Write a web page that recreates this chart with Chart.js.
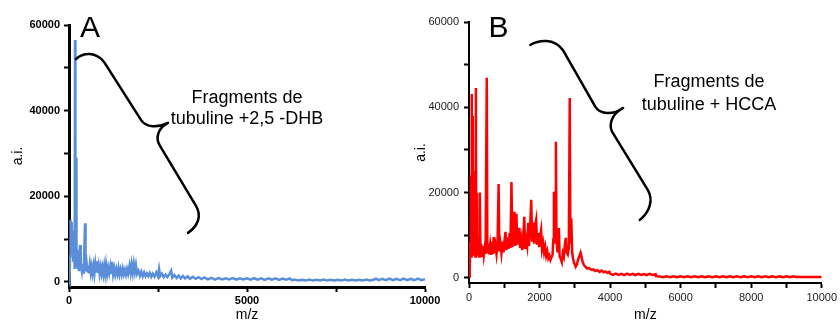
<!DOCTYPE html>
<html>
<head>
<meta charset="utf-8">
<script src="https://cdn.jsdelivr.net/npm/chart.js@4.4.1/dist/chart.umd.min.js"></script>
<style>
  html, body { margin: 0; padding: 0; background: #fff; }
  #wrap { position: relative; width: 840px; height: 324px; overflow: hidden; }
  #wrap canvas { position: absolute; left: 0; top: 0; }
</style>
</head>
<body>
<div id="wrap">
  <canvas id="chartA" width="840" height="324"></canvas>
  <canvas id="chartB" width="840" height="324"></canvas>
</div>
<script>
// Spectrum A (2,5-DHB): m/z and intensity (a.i.)
const mzA = [
  0, 15, 30, 45, 60, 75, 90, 105, 120, 140, 160, 170, 180, 197, 210, 225, 240, 260, 280, 309,
  325, 337, 360, 380, 400, 420, 450, 465, 497, 520, 540, 560, 585, 610, 635, 660, 690, 715, 740, 765,
  787, 810, 835, 860, 890, 915, 940, 965, 990, 1015, 1040, 1070, 1100, 1130, 1160, 1185, 1210, 1240, 1270, 1300,
  1330, 1360, 1390, 1420, 1450, 1480, 1510, 1540, 1570, 1600, 1630, 1660, 1700, 1730, 1760, 1790, 1820, 1850, 1880, 1910,
  1950, 1990, 2030, 2070, 2110, 2150, 2190, 2230, 2270, 2310, 2350, 2400, 2450, 2500, 2530, 2560, 2610, 2660, 2710, 2760,
  2820, 2870, 2900, 2960, 3020, 3080, 3140, 3200, 3260, 3330, 3400, 3480, 3560, 3640, 3720, 3800, 3900, 4000, 4100, 4200,
  4300, 4400, 4500, 4600, 4700, 4800, 4900, 5000, 5100, 5200, 5300, 5400, 5500, 5600, 5700, 5800, 5900, 6000, 6100, 6200,
  6260, 6350, 6450, 6550, 6650, 6750, 6850, 6950, 7050, 7150, 7250, 7350, 7450, 7550, 7650, 7750, 7850, 7950, 8050, 8150,
  8250, 8350, 8450, 8550, 8620, 8700, 8800, 8900, 9000, 9100, 9200, 9300, 9400, 9500, 9600, 9700, 9800, 9900, 10000
];
const aiA = [
  800, 300, 6000, 14500, 10000, 14000, 8000, 12000, 5000, 9000, 3000, 56500, 4000, 29000, 3500, 7500, 3000, 4500, 2500, 8600,
  3000, 4000, 2500, 4200, 2200, 3500, 13700, 2500, 4200, 2200, 3800, 2000, 4000, 2200, 3600, 2000, 3800, 2000, 4100, 2200,
  4800, 2100, 3700, 1900, 3500, 2000, 3300, 1800, 3600, 1900, 4000, 1800, 3400, 2000, 3600, 1900, 4700, 1800, 3200, 1700,
  3000, 1800, 3300, 1700, 2900, 1700, 3100, 1800, 2800, 1700, 3000, 1900, 3800, 2100, 4100, 2200, 4200, 2300, 3900, 1900,
  2600, 1400, 2400, 1300, 2200, 1300, 2000, 1300, 2100, 1200, 1900, 1200, 2200, 1300, 3000, 1300, 1900, 1100, 1700, 1100,
  1800, 2600, 1000, 1600, 900, 1500, 800, 1400, 800, 1300, 700, 1200, 700, 1100, 650, 1050, 600, 950, 550, 900,
  550, 850, 550, 900, 500, 850, 550, 850, 500, 850, 500, 800, 450, 800, 500, 800, 450, 750, 500, 800,
  400, 550, 300, 500, 300, 550, 300, 500, 300, 550, 300, 500, 300, 500, 300, 550, 300, 500, 300, 500,
  300, 550, 300, 500, 750, 400, 700, 400, 750, 400, 700, 400, 750, 400, 700, 400, 750, 400, 600
];

// Spectrum B (HCCA)
const mzB = [
  0, 20, 35, 50, 60, 70, 84, 92, 100, 112, 120, 135, 150, 165, 180, 196, 205, 224, 240, 265,
  285, 308, 325, 345, 370, 395, 420, 445, 470, 504, 520, 545, 570, 600, 630, 660, 680, 700, 720, 750,
  780, 810, 840, 860, 890, 920, 950, 980, 1010, 1036, 1060, 1090, 1120, 1150, 1175, 1204, 1230, 1260, 1288, 1310,
  1344, 1370, 1400, 1428, 1450, 1480, 1510, 1540, 1568, 1590, 1620, 1650, 1680, 1700, 1730, 1764, 1790, 1820, 1850, 1880,
  1904, 1930, 1960, 1990, 2020, 2044, 2070, 2100, 2130, 2160, 2190, 2220, 2250, 2280, 2310, 2340, 2370, 2390, 2408, 2425,
  2450, 2464, 2480, 2510, 2548, 2570, 2600, 2632, 2660, 2690, 2720, 2744, 2770, 2800, 2830, 2856, 2875, 2900, 2925, 2950,
  2980, 3024, 3060, 3100, 3140, 3164, 3190, 3220, 3260, 3304, 3350, 3400, 3472, 3520, 3580, 3640, 3700, 3760, 3820, 3864,
  3920, 3980, 4000, 4080, 4160, 4240, 4320, 4400, 4480, 4560, 4640, 4720, 4800, 4880, 4960, 5040, 5120, 5200, 5290, 5300,
  5400, 5500, 5600, 5700, 5800, 5900, 6000, 6100, 6200, 6300, 6400, 6500, 6600, 6700, 6800, 6900, 7000, 7100, 7200, 7300,
  7400, 7500, 7600, 7700, 7800, 7900, 8000, 8100, 8200, 8300, 8400, 8500, 8600, 8700, 8800, 8900, 9000, 9100, 9200, 9270,
  10000
];
const aiB = [
  300, 1500, 8000, 24000, 5000, 15000, 43100, 6000, 30000, 38000, 5500, 25000, 6000, 18000, 5000, 44500, 6000, 19900, 5200, 9500,
  5000, 20000, 5500, 8000, 5200, 7500, 5300, 7000, 5600, 46900, 5800, 8000, 5500, 7800, 5400, 8500, 5600, 9600, 5800, 7600,
  5600, 8200, 22000, 6200, 8000, 5800, 8500, 6000, 9000, 10800, 6500, 9500, 6800, 10500, 7000, 22500, 7200, 11000, 15500, 7500,
  15000, 7800, 9500, 11700, 7000, 9000, 6500, 9800, 14300, 6800, 9000, 7500, 12900, 7500, 11000, 18300, 8500, 13000, 8000, 12500,
  13600, 7800, 10500, 7200, 10000, 11200, 6800, 8200, 6000, 7300, 5200, 6200, 4600, 5200, 4200, 4800, 5500, 9000, 20200, 8000,
  20000, 31900, 9000, 6000, 11700, 5000, 4500, 3700, 5800, 5000, 7800, 9400, 6000, 5500, 7000, 42200, 8000, 14000, 6000, 4500,
  3500, 2600, 3200, 4500, 5300, 5900, 5000, 3800, 3000, 2600, 2200, 2300, 1900, 2000, 1600, 1800, 1400, 1700, 1300, 1500,
  1200, 1400, 1000, 700, 1000, 700, 950, 650, 1000, 700, 950, 650, 950, 700, 900, 650, 950, 700, 850, 400,
  350, 150, 350, 150, 350, 150, 350, 150, 350, 150, 350, 150, 350, 150, 350, 150, 350, 150, 350, 150,
  350, 150, 350, 150, 350, 150, 350, 150, 350, 150, 350, 150, 350, 150, 350, 150, 350, 150, 350, 200,
  200
];

// axis ticks and labels
const xTicksA = [0, 2500, 5000, 7500, 10000];
const xLabelsA = [0, 5000, 10000];
const xTicksB = [0, 1000, 2000, 3000, 4000, 5000, 6000, 7000, 8000, 9000, 10000];
const xLabelsB = [0, 2000, 4000, 6000, 8000, 10000];
const yTicks = [0, 10000, 20000, 30000, 40000, 50000, 60000];
const yLabels = [0, 20000, 40000, 60000];

const FONT = "'Liberation Sans', Arial, sans-serif";

// braces drawn in data units: first entry is the start, 2 numbers = line, 6 numbers = curve
const braceA = [
  [197, 52070],
  [421, 53705, 758, 53705, 983, 51370],
  [2022, 37830],
  [2163, 35960, 2500, 35960, 2781, 37130],
  [2500, 35960, 2416, 33620, 2556, 31760],
  [3567, 17750],
  [3736, 15410, 3624, 13080, 3343, 11440]
];
const braceB = [
  [1736, 54615],
  [1988, 55790, 2408, 56255, 2660, 53445],
  [3584, 40080],
  [3724, 38210, 4088, 38210, 4368, 39850],
  [4060, 38440, 3948, 36100, 4060, 34220],
  [5068, 20630],
  [5236, 18280, 5124, 15470, 4844, 13600]
];

function annotations(opts) {
  return {
    id: 'annotations',
    afterDraw(chart) {
      const { ctx } = chart;
      const xs = chart.scales.x;
      const ys = chart.scales.y;
      const X = (v) => xs.getPixelForValue(v);
      const Y = (v) => ys.getPixelForValue(v);

      ctx.save();
      ctx.strokeStyle = '#000';
      ctx.lineWidth = 2.5;
      ctx.lineCap = 'round';
      ctx.lineJoin = 'round';
      ctx.beginPath();
      opts.brace.forEach((seg, i) => {
        if (i === 0) {
          ctx.moveTo(X(seg[0]), Y(seg[1]));
        } else if (seg.length === 2) {
          ctx.lineTo(X(seg[0]), Y(seg[1]));
        } else {
          ctx.bezierCurveTo(X(seg[0]), Y(seg[1]), X(seg[2]), Y(seg[3]), X(seg[4]), Y(seg[5]));
        }
      });
      ctx.stroke();

      ctx.fillStyle = '#000';
      ctx.textAlign = 'center';
      ctx.textBaseline = 'middle';
      ctx.font = '18px ' + FONT;
      opts.text.forEach((line, i) => {
        ctx.fillText(line, X(opts.textAt[0]), Y(opts.textAt[1]) + i * opts.lineGap);
      });

      ctx.textBaseline = 'alphabetic';
      ctx.font = '30px ' + FONT;
      ctx.fillText(opts.letter, X(opts.letterAt[0]), Y(opts.letterAt[1]));
      ctx.restore();
    }
  };
}

function spectrumChart(id, opts) {
  const points = opts.mz.map((x, i) => ({ x, y: opts.ai[i] }));
  const tickFont = { family: FONT, size: 11, weight: opts.bold ? 'bold' : 'normal' };

  return new Chart(document.getElementById(id), {
    type: 'line',
    data: {
      datasets: [{
        data: points,
        borderColor: opts.color,
        borderWidth: opts.lineWidth,
        pointRadius: 0,
        tension: 0,
        fill: false,
      }],
    },
    options: {
      responsive: false,
      animation: false,
      events: [],
      layout: { padding: opts.padding },
      plugins: {
        legend: { display: false },
        tooltip: { enabled: false },
      },
      scales: {
        x: {
          type: 'linear',
          min: 0,
          max: 10000,
          afterBuildTicks: (axis) => { axis.ticks = opts.xTicks.map((value) => ({ value })); },
          afterFit: (axis) => { axis.height = opts.xHeight; },
          ticks: {
            autoSkip: false,
            maxRotation: 0,
            padding: opts.xTickPad,
            color: opts.tickColor,
            font: tickFont,
            callback: (v) => (opts.xLabels.includes(v) ? String(v) : ''),
          },
          grid: { drawOnChartArea: false, tickLength: 5, tickWidth: 2, tickColor: '#000' },
          border: { color: '#000', width: opts.axisWidth },
          title: { display: true, text: 'm/z', color: '#000', font: { family: FONT, size: 14 }, padding: 0 },
        },
        y: {
          min: -1200,
          max: 60000,
          afterBuildTicks: (axis) => { axis.ticks = yTicks.map((value) => ({ value })); },
          afterFit: (axis) => { axis.width = opts.yWidth; },
          ticks: {
            padding: opts.yTickPad,
            color: opts.tickColor,
            font: tickFont,
            callback: (v) => (yLabels.includes(v) ? String(v) : ''),
          },
          grid: { drawOnChartArea: false, tickLength: 5, tickWidth: 2, tickColor: '#000' },
          border: { color: '#000', width: opts.axisWidth },
          title: { display: true, text: 'a.i.', color: '#000', font: { family: FONT, size: 14 }, padding: opts.yTitlePad },
        },
      },
    },
    plugins: [annotations(opts)],
  });
}

spectrumChart('chartA', {
  mz: mzA, ai: aiA, color: '#5b8ed9', lineWidth: 2.5,
  xTicks: xTicksA, xLabels: xLabelsA,
  padding: { left: 0, right: 415, top: 25, bottom: 0 },
  yWidth: 69, xHeight: 37, axisWidth: 3, bold: true, tickColor: '#000',
  xTickPad: 2, yTickPad: 4, yTitlePad: 10,
  brace: braceA,
  text: ['Fragments de', 'tubuline +2,5 -DHB'], textAt: [5000, 42960], lineGap: 21,
  letter: 'A', letterAt: [590, 57200],
});

spectrumChart('chartB', {
  mz: mzB, ai: aiB, color: '#ff0000', lineWidth: 2.5,
  xTicks: xTicksB, xLabels: xLabelsB,
  padding: { left: 410, right: 14, top: 22, bottom: 0 },
  yWidth: 59, xHeight: 41, axisWidth: 2, bold: false, tickColor: '#222',
  xTickPad: 3, yTickPad: 5, yTitlePad: 3,
  brace: braceB,
  text: ['Fragments de', 'tubuline + HCCA'], textAt: [6804, 45940], lineGap: 23,
  letter: 'B', letterAt: [840, 56490],
});
</script>
</body>
</html>
